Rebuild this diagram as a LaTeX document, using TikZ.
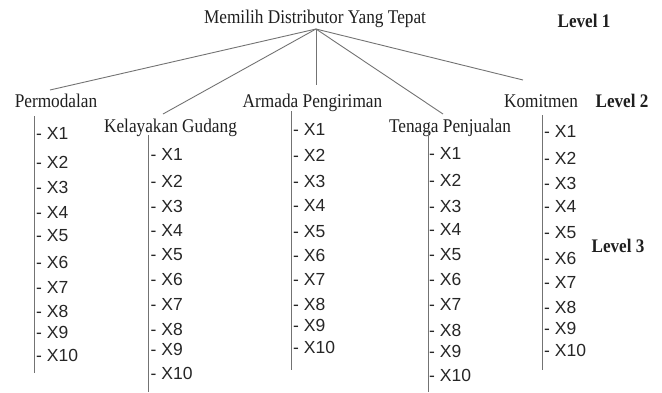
\documentclass[tikz,border=0pt]{standalone}
\usepackage{fontspec}
\setmainfont[FakeStretch=0.89]{Liberation Serif}
\newfontfamily\itemfont{Liberation Sans}
\begin{document}
\begin{tikzpicture}[x=1pt,y=-1pt,
  lbl/.style={inner sep=0pt, anchor=base, font=\fontsize{19.4}{22}\selectfont, text=black!88},
  lvl/.style={inner sep=0pt, anchor=base, font=\fontsize{19.2}{22}\selectfont\bfseries, text=black!88},
  itm/.style={inner sep=0pt, anchor=base west, font=\itemfont\fontsize{17.5}{20}\selectfont, text=black!85},
  conn/.style={draw=black!55, line width=0.9pt}]
\useasboundingbox (0,0) rectangle (662,392);
% level 1
\node[lbl] (goal) at (315,23) {Memilih Distributor Yang Tepat};
\node[lvl] (lv1) at (584,27) {Level 1};
% level 2
\node[lbl] (perm) at (56,107.5) {Permodalan};
\node[lbl] (kel)  at (170.5,132.5) {Kelayakan Gudang};
\node[lbl] (arm)  at (312.5,107.5) {Armada Pengiriman};
\node[lbl] (ten)  at (450,132.5) {Tenaga Penjualan};
\node[lbl] (kom)  at (541,107.5) {Komitmen};
\node[lvl] (lv2)  at (622,107.5) {Level 2};
\node[lvl] (lv3)  at (618,252) {Level 3};
% connectors from goal
\coordinate (apex) at (316,29);
\coordinate (ePerm) at (50,90);
\coordinate (eKel) at (163,114);
\coordinate (eArm) at (316,85);
\coordinate (eTen) at (443,114);
\coordinate (eKom) at (523,80);
\foreach \e in {ePerm,eKel,eArm,eTen,eKom} \draw[conn] (apex) -- (\e);
% vertical bars
\coordinate (pT) at (34,116);  \coordinate (pB) at (34,373);
\coordinate (kT) at (148,135); \coordinate (kB) at (148,392);
\coordinate (aT) at (291,111); \coordinate (aB) at (291,370);
\coordinate (tT) at (428,128); \coordinate (tB) at (428,392);
\coordinate (mT) at (542,115); \coordinate (mB) at (542,370);
\draw[conn] (pT) -- (pB);
\draw[conn] (kT) -- (kB);
\draw[conn] (aT) -- (aB);
\draw[conn] (tT) -- (tB);
\draw[conn] (mT) -- (mB);
% items
\foreach \yy [count=\i] in {133,162,187,212,235,262,287,311,332,355}
  \node[itm] (p\i) at (36,{\yy+6.3}) {- X\i};
\foreach \yy [count=\i] in {154,181,206,230,254,279,304,329,349,373}
  \node[itm] (k\i) at (150.5,{\yy+6.3}) {- X\i};
\foreach \yy [count=\i] in {129,155,181,205,231,255,279,304,325,347}
  \node[itm] (a\i) at (293,{\yy+6.3}) {- X\i};
\foreach \yy [count=\i] in {153,180,206,229,254,279,304,330,351,375}
  \node[itm] (t\i) at (429,{\yy+6.3}) {- X\i};
\foreach \yy [count=\i] in {131,158,183,206,232,258,282,307,328,350}
  \node[itm] (m\i) at (544,{\yy+6.3}) {- X\i};
\end{tikzpicture}
\end{document}
